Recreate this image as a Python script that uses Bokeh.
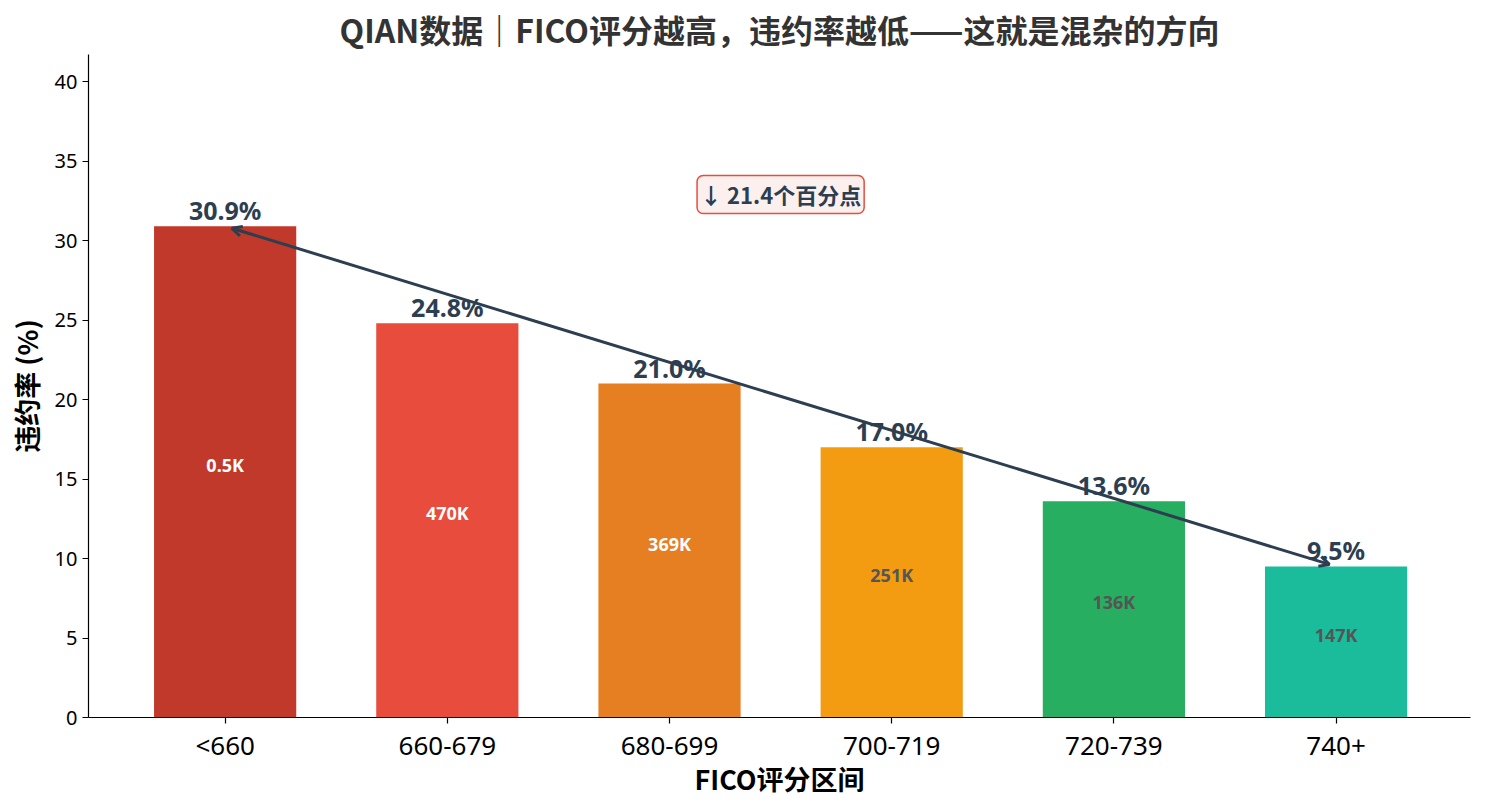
from bokeh.plotting import figure
from bokeh.models import Range1d, FixedTicker, Arrow, OpenHead, Label, ColumnDataSource
from bokeh.core.properties import value
from bokeh.embed import file_html
from bokeh.resources import INLINE

# ---- data ----
categories = ["<660", "660-679", "680-699", "700-719", "720-739", "740+"]
default_rates = [30.9, 24.8, 21.0, 17.0, 13.6, 9.5]
count_labels = ["0.5K", "470K", "369K", "251K", "136K", "147K"]
bar_colors = ["#c0392b", "#e74c3c", "#e67e22", "#f39c12", "#27ae60", "#1abc9c"]
count_colors = ["white", "white", "white", "#555555", "#555555", "#555555"]
y_ticks = [0, 5, 10, 15, 20, 25, 30, 35, 40]
title_text = "QIAN数据｜FICO评分越高，违约率越低——这就是混杂的方向"
drop_text = "↓ %.1f个百分点" % (default_rates[0] - default_rates[-1])

CJK = "Noto Sans CJK SC"
LAT = "Noto Sans"
DARK = "#2c3e50"

xs = list(range(len(categories)))
src = ColumnDataSource(dict(
    x=xs,
    rate=default_rates,
    half=[r / 2 for r in default_rates],
    color=bar_colors,
    pct=["%.1f%%" % r for r in default_rates],
    cnt=count_labels,
    cnt_color=count_colors,
))

p = figure(width=1485, height=810, output_backend="svg", toolbar_location=None,
           x_range=Range1d(-0.615, 5.605), y_range=Range1d(0, 41.7),
           min_border_left=88, min_border_right=15, min_border_top=53, min_border_bottom=93)

p.title.text = title_text
p.title.align = "center"
p.title.text_font = CJK
p.title.text_font_size = "32px"
p.title.text_font_style = "bold"
p.title.text_color = "#333333"
p.title.standoff = 6

p.xgrid.visible = False
p.ygrid.visible = False
p.outline_line_color = None
p.background_fill_color = "white"
p.border_fill_color = "white"

p.vbar(x="x", top="rate", width=0.64, fill_color="color", line_color=None, source=src)

p.text(x="x", y="rate", text="pct", source=src, text_align="center", text_baseline="bottom",
       y_offset=1, text_font=value(LAT), text_font_style="bold", text_font_size="25px",
       text_color=DARK)

p.text(x="x", y="half", text="cnt", source=src, text_align="center", text_baseline="middle",
       y_offset=-7, text_font=value(LAT), text_font_style="bold", text_font_size="18px",
       text_color="cnt_color")

# arrow between first and last bar tops, pulled in slightly at each end
shrink = 0.006
x0, y0 = xs[0], default_rates[0]
x1, y1 = xs[-1], default_rates[-1]
p.add_layout(Arrow(x_start=x1 - (x1 - x0) * shrink, y_start=y1 - (y1 - y0) * shrink,
                   x_end=x0 + (x1 - x0) * shrink, y_end=y0 + (y1 - y0) * shrink,
                   line_color=DARK, line_width=3,
                   start=OpenHead(size=10, line_color=DARK, line_width=3),
                   end=OpenHead(size=10, line_color=DARK, line_width=3)))

p.add_layout(Label(x=(xs[0] + xs[-1]) / 2, y=32.9, text=drop_text, text_align="center",
                   text_baseline="middle", text_font=CJK, text_font_style="bold",
                   text_font_size="22px", text_color=DARK,
                   background_fill_color="#fcf0ee", background_fill_alpha=1.0,
                   border_line_color="#e74c3c", border_line_width=1.5,
                   padding=3, border_radius=6))

for ax in (p.xaxis[0], p.yaxis[0]):
    ax.axis_line_color = "black"
    ax.axis_line_width = 1.2
    ax.major_tick_line_color = "black"
    ax.major_tick_line_width = 1.2
    ax.major_tick_out = 6
    ax.major_tick_in = 0
    ax.minor_tick_line_color = None
    ax.major_label_text_color = "black"
    ax.axis_label_text_font = CJK
    ax.axis_label_text_font_style = "bold"
    ax.axis_label_text_color = "black"

p.xaxis.ticker = FixedTicker(ticks=xs)
p.xaxis.major_label_overrides = {i: c for i, c in zip(xs, categories)}
p.xaxis.major_label_text_font = LAT
p.xaxis.major_label_text_font_size = "26px"
p.xaxis.major_label_standoff = 3
p.xaxis.axis_label = "FICO评分区间"
p.xaxis.axis_label_text_font_size = "27px"
p.xaxis.axis_label_standoff = -7

p.yaxis.ticker = FixedTicker(ticks=y_ticks)
p.yaxis.major_label_text_font = LAT
p.yaxis.major_label_text_font_size = "20px"
p.yaxis.major_label_standoff = 5
p.yaxis.axis_label = "违约率 (%)"
p.yaxis.axis_label_text_font_size = "27px"
p.yaxis.axis_label_standoff = 6

open("out.html", "w").write(file_html(p, INLINE))
